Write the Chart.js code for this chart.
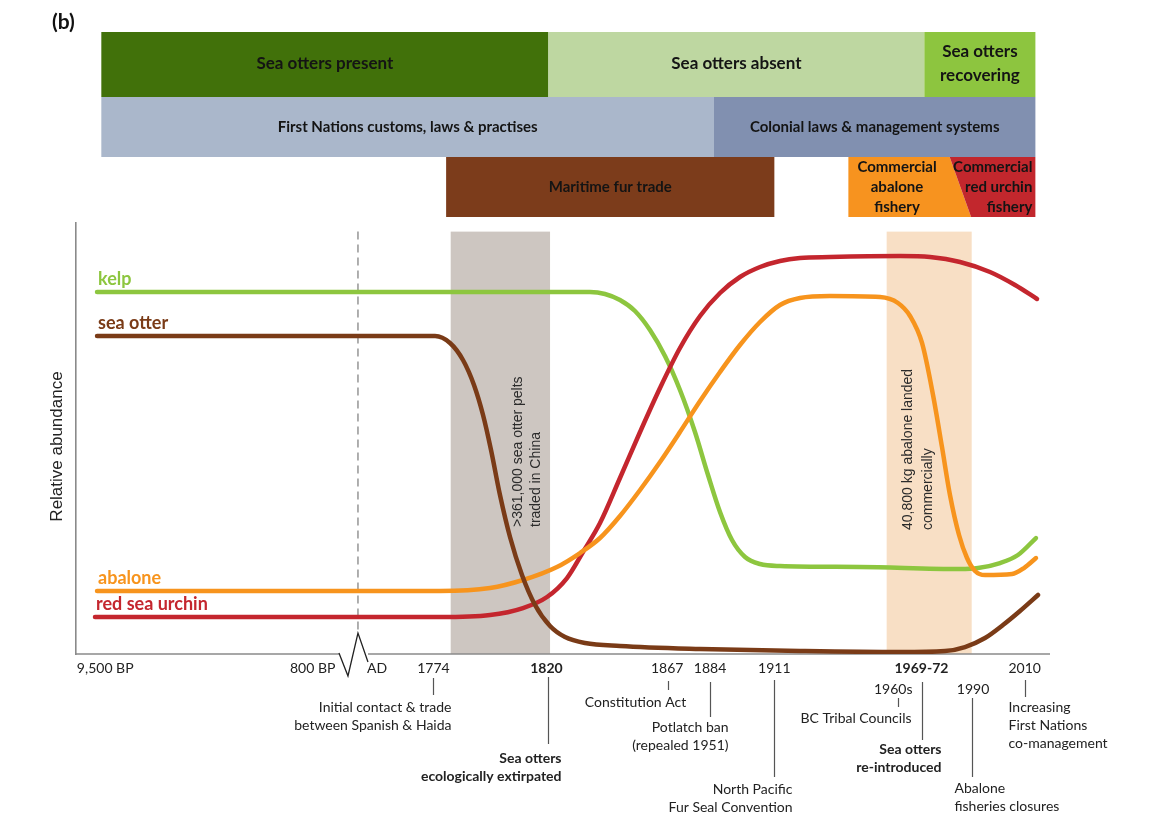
<!DOCTYPE html>
<html>
<head>
<meta charset="utf-8">
<script src="https://cdn.jsdelivr.net/npm/chart.js@4.4.1/dist/chart.umd.min.js"></script>
<style>
html,body{margin:0;padding:0;background:#fff}
#wrap{width:1164px;height:826px}
</style>
</head>
<body>
<div id="wrap"><canvas id="chart" width="1164" height="826"></canvas></div>
<script>
(function(){
// timeline position (0-100 along the broken axis) vs relative abundance (0-100)
var kelp = [[2.16,83.99],[52.77,83.99],[54.31,83.53],[55.85,82.13],[57.39,79.58],[58.93,75.17],[60.47,69.14],[62.01,61.25],[63.55,51.51],[64.89,41.53],[66.12,32.95],[67.35,26.45],[68.69,22.51],[70.23,20.88],[72.28,20.42],[80.49,20.19],[90.76,19.72],[92.61,19.95],[94.87,21.11],[96.71,22.97],[98.56,26.91]];
var seaOtter = [[2.16,73.78],[36.86,73.78],[38.40,72.16],[39.73,68.21],[40.86,62.41],[41.79,55.45],[42.61,47.33],[43.53,36.89],[44.56,27.15],[45.79,18.33],[47.13,11.37],[48.67,6.50],[50.21,3.94],[52.26,2.55],[55.85,1.86],[64.07,1.16],[74.33,0.70],[84.60,0.46],[89.22,0.70],[91.27,1.62],[93.33,3.71],[95.17,6.73],[96.92,9.98],[98.77,13.69]];
var abalone = [[2.16,14.62],[37.37,14.62],[42.51,15.31],[45.89,17.17],[49.38,20.19],[51.75,23.43],[53.80,26.91],[55.85,32.02],[57.91,38.05],[59.96,44.55],[62.01,51.51],[64.07,58.70],[66.12,65.43],[68.17,71.69],[70.23,77.03],[72.28,80.97],[74.33,82.60],[77.41,83.06],[82.55,82.83],[84.39,81.44],[85.63,78.42],[86.86,72.16],[87.99,60.09],[88.91,48.03],[89.73,36.89],[90.66,27.61],[91.48,22.27],[92.30,19.26],[93.33,18.33],[96.10,18.56],[97.33,19.95],[98.56,22.27]];
var urchin = [[1.95,8.58],[37.37,8.58],[42.51,9.05],[45.89,10.67],[48.36,13.23],[50.41,17.63],[52.05,23.67],[53.80,30.39],[55.85,40.84],[57.91,51.51],[59.96,61.72],[62.01,71.00],[64.07,78.42],[66.12,83.76],[68.17,87.47],[70.23,89.79],[72.28,91.18],[74.33,91.88],[77.41,92.11],[84.60,92.34],[87.68,92.11],[90.76,90.95],[93.84,88.63],[96.41,85.61],[98.67,82.37]];

var seriesNames = ["sea otter","abalone","red sea urchin","kelp"];
var seriesColors = ["#7a3b17","#f7941d","#c4262e","#8dc63f"];

var tickPos = [3.0,24.3,30.9,36.7,48.3,60.7,65.1,71.7,86.8,97.4];
var tickLabels = ["9,500 BP","800 BP","AD","1774","1820","1867","1884","1911","1969-72","2010"];
var tickBold = [false,false,false,false,true,false,false,false,true,false];
var subTickPos = [83.9,92.1];
var subTickLabels = ["1960s","1990"];
var eraBreak = 28.95;

var bandSpans = [[38.47,48.67],[83.23,91.96]];
var bandTop = 98.0;
var bandNotes = [[">361,000 sea otter pelts","traded in China"],["40,800 kg abalone landed","commercially"]];

var eventAt = [36.7,48.5,60.8,65.1,71.7,84.4,86.9,92.0,97.4];
var eventText = [["Initial contact & trade","between Spanish & Haida"],["Sea otters","ecologically extirpated"],["Constitution Act"],["Potlatch ban","(repealed 1951)"],["North Pacific","Fur Seal Convention"],["BC Tribal Councils"],["Sea otters","re-introduced"],["Abalone","fisheries closures"],["Increasing","First Nations","co-management"]];
var eventBold = [false,true,false,false,false,false,true,false,false];

var presenceLabels = [["Sea otters present"],["Sea otters absent"],["Sea otters","recovering"]];
var presenceSpans = [[2.6,48.5],[48.5,87.1],[87.1,98.5]];
var governanceLabels = [["First Nations customs, laws & practises"],["Colonial laws & management systems"]];
var governanceSpans = [[2.6,65.5],[65.5,98.5]];
var harvestLabels = [["Maritime fur trade"],["Commercial","abalone","fishery"],["Commercial","red urchin","fishery"]];
var harvestSpans = [[38.0,71.7],[79.3,89.7],[89.7,98.5]];
var harvestSplitBottom = 91.9;

// styling / placement
var presenceColors = ["#41710a","#bed7a1","#8dc53f"];
var governanceColors = ["#aab7cb","#8190b0"];
var harvestColors = ["#7c3c1b","#f7931f","#c2272d"];
var bandColors = ["#cdc6c1","#f8dfc5"];
var noteLayout = [[67,527,18],[21,530,20]];
// [lineTop, lineBottom, textDx, firstLineY, align]
var eventLayout = [[678,695,18,707,"right"],[677,744,13,758,"right"],[681,690,-33,702,"center"],[682,717,18,727,"right"],[680,777,18,789,"right"],[698,707,13,718,"right"],[682,740,19,749,"right"],[698,777,-18,788,"left"],[680,697,-17,707,"left"]];
var FONT = "Lato";

function pts(a){ var r=[]; for(var i=0;i<a.length;i++){ r.push({x:a[i][0], y:a[i][1]}); } return r; }

function lines(ctx, arr, x, yc, lh){
  var y0 = yc - (arr.length-1)*lh/2;
  for (var i=0;i<arr.length;i++){ ctx.fillText(arr[i], x, y0+i*lh); }
}

var deco = {
  id: "deco",
  beforeDatasetsDraw: function(chart){
    var ctx = chart.ctx, xs = chart.scales.x, ys = chart.scales.y, a = chart.chartArea;
    ctx.save();
    var yt = ys.getPixelForValue(bandTop);
    for (var i=0;i<bandSpans.length;i++){
      var x0 = xs.getPixelForValue(bandSpans[i][0]), x1 = xs.getPixelForValue(bandSpans[i][1]);
      ctx.fillStyle = bandColors[i];
      ctx.fillRect(x0, yt, x1-x0, a.bottom-yt);
      ctx.save();
      ctx.fillStyle = "#2b2b2b"; ctx.font = '14px "Liberation Sans"';
      ctx.textAlign = "left"; ctx.textBaseline = "middle";
      ctx.translate(x0 + noteLayout[i][0], noteLayout[i][1]);
      ctx.rotate(-Math.PI/2);
      for (var j=0;j<bandNotes[i].length;j++){ ctx.fillText(bandNotes[i][j], 0, j*noteLayout[i][2]); }
      ctx.restore();
    }
    // dashed BP / AD break
    var bx = xs.getPixelForValue(eraBreak);
    ctx.strokeStyle = "#7a7a7a"; ctx.lineWidth = 1.2; ctx.setLineDash([8,5]);
    ctx.beginPath(); ctx.moveTo(bx, yt); ctx.lineTo(bx, a.bottom-21); ctx.stroke();
    ctx.setLineDash([]);
    // x axis with break mark
    ctx.strokeStyle = "#8a8a8a"; ctx.lineWidth = 1.6;
    ctx.beginPath();
    ctx.moveTo(a.left, a.bottom); ctx.lineTo(bx-19, a.bottom);
    ctx.moveTo(bx+10, a.bottom); ctx.lineTo(a.right, a.bottom);
    ctx.stroke();
    ctx.strokeStyle = "#222"; ctx.lineWidth = 1.3;
    ctx.beginPath();
    ctx.moveTo(bx-19, a.bottom-1); ctx.lineTo(bx-10, a.bottom+22); ctx.lineTo(bx, a.bottom-21); ctx.lineTo(bx+10, a.bottom+8);
    ctx.stroke();
    ctx.restore();
  },
  afterDraw: function(chart){
    var ctx = chart.ctx, xs = chart.scales.x, ys = chart.scales.y, a = chart.chartArea;
    var i, x0, x1;
    ctx.save();
    ctx.textBaseline = "middle";

    // (b)
    ctx.fillStyle = "#111"; ctx.font = "bold 21px " + FONT; ctx.textAlign = "left";
    ctx.fillText("(b)", 52, 22);

    // row 1: sea otter presence
    ctx.font = "bold 17px " + FONT; ctx.textAlign = "center";
    for (i=0;i<presenceSpans.length;i++){
      x0 = xs.getPixelForValue(presenceSpans[i][0]); x1 = xs.getPixelForValue(presenceSpans[i][1]);
      ctx.fillStyle = presenceColors[i]; ctx.fillRect(x0, 32, x1-x0, 65);
      ctx.fillStyle = "#141414"; lines(ctx, presenceLabels[i], (x0+x1)/2, 64, 24);
    }
    // row 2: governance
    ctx.font = "bold 15px " + FONT;
    for (i=0;i<governanceSpans.length;i++){
      x0 = xs.getPixelForValue(governanceSpans[i][0]); x1 = xs.getPixelForValue(governanceSpans[i][1]);
      ctx.fillStyle = governanceColors[i]; ctx.fillRect(x0, 97, x1-x0, 60);
      ctx.fillStyle = "#141414"; lines(ctx, governanceLabels[i], (x0+x1)/2, 127, 20);
    }
    // row 3: harvest, abalone / urchin boundary slanted
    var split = xs.getPixelForValue(harvestSplitBottom);
    for (i=0;i<harvestSpans.length;i++){
      x0 = xs.getPixelForValue(harvestSpans[i][0]); x1 = xs.getPixelForValue(harvestSpans[i][1]);
      var bl = x0, br = x1;
      if (i===1){ br = split; }
      if (i===2){ bl = split; }
      ctx.fillStyle = harvestColors[i];
      ctx.beginPath(); ctx.moveTo(x0,157); ctx.lineTo(x1,157); ctx.lineTo(br,217); ctx.lineTo(bl,217); ctx.closePath(); ctx.fill();
      ctx.fillStyle = "#141414";
      if (i===2){ ctx.textAlign = "right"; lines(ctx, harvestLabels[i], x1-3, 187, 20); ctx.textAlign = "center"; }
      else { lines(ctx, harvestLabels[i], (x0+x1)/2 - (i===1?2:0), 187, 20); }
    }

    // second row of year labels
    ctx.fillStyle = "#222"; ctx.font = "14px " + FONT; ctx.textAlign = "center";
    for (i=0;i<subTickPos.length;i++){ ctx.fillText(subTickLabels[i], xs.getPixelForValue(subTickPos[i]), 689); }

    // event call-outs
    for (i=0;i<eventAt.length;i++){
      var lx = Math.round(xs.getPixelForValue(eventAt[i])) + 0.5, L = eventLayout[i];
      ctx.strokeStyle = "#555"; ctx.lineWidth = 1.2;
      ctx.beginPath(); ctx.moveTo(lx, L[0]); ctx.lineTo(lx, L[1]); ctx.stroke();
      ctx.fillStyle = "#222"; ctx.font = (eventBold[i] ? "bold " : "") + "14px " + FONT;
      ctx.textAlign = L[4];
      for (var k=0;k<eventText[i].length;k++){ ctx.fillText(eventText[i][k], lx + L[2], L[3] + k*18); }
    }

    // series labels above the start of each curve
    ctx.font = "bold 18px " + FONT; ctx.textAlign = "left"; ctx.textBaseline = "alphabetic";
    var data = [seaOtter, abalone, urchin, kelp];
    for (i=0;i<data.length;i++){
      ctx.fillStyle = seriesColors[i];
      ctx.fillText(seriesNames[i], xs.getPixelForValue(data[i][0][0]) + 1, ys.getPixelForValue(data[i][0][1]) - 7);
    }

    // y title
    ctx.save();
    ctx.fillStyle = "#222"; ctx.font = '17px "Liberation Sans"'; ctx.textAlign = "center"; ctx.textBaseline = "middle";
    ctx.translate(57, (a.top + a.bottom)/2 + 8); ctx.rotate(-Math.PI/2);
    ctx.fillText("Relative abundance", 0, 0);
    ctx.restore();
    ctx.restore();
  }
};

var sets = [seaOtter, abalone, urchin, kelp];
var datasets = [];
for (var s=0;s<sets.length;s++){
  datasets.push({ label: seriesNames[s], data: pts(sets[s]), borderColor: seriesColors[s], borderWidth: 4.5,
    borderCapStyle: "round", borderJoinStyle: "round", pointRadius: 0, fill: false, cubicInterpolationMode: "monotone" });
}

new Chart(document.getElementById("chart"), {
  type: "line",
  data: { datasets: datasets },
  options: {
    responsive: false, animation: false, devicePixelRatio: 1,
    layout: { padding: { top: 223, right: 114, left: 0, bottom: 0 } },
    plugins: { legend: { display: false }, tooltip: { enabled: false } },
    scales: {
      x: { type: "linear", min: 0, max: 100,
        afterFit: function(sc){ sc.height = 172; },
        afterBuildTicks: function(sc){ sc.ticks = tickPos.map(function(v){ return { value: v }; }); },
        grid: { display: false, drawTicks: false }, border: { display: false },
        ticks: { autoSkip: false, maxRotation: 0, minRotation: 0, padding: 6, color: "#222",
          callback: function(v, i){ return tickLabels[i]; },
          font: function(c){ return { family: FONT, size: 14, weight: tickBold[c.index] ? "bold" : "normal" }; } } },
      y: { type: "linear", min: 0, max: 100,
        afterFit: function(sc){ sc.width = 76; },
        grid: { display: false, drawTicks: false }, ticks: { display: false },
        border: { display: true, color: "#8a8a8a", width: 1.6 } }
    }
  },
  plugins: [deco]
});
})();
</script>
</body>
</html>
